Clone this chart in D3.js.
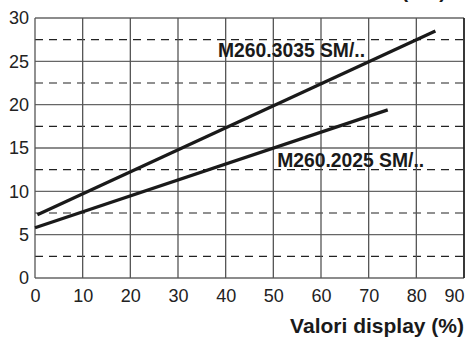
<!DOCTYPE html>
<html lang="it">
  <head>
    <meta charset="UTF-8" />
    <title>Valori display</title>
    <style>
      body { margin: 0; background: #fff; }
      svg { font-family: 'Liberation Sans', Arial, sans-serif; display: block; }
    </style>
  </head>
  <body>
    <svg width="468" height="338"></svg>
    <script src="https://d3js.org/d3.v7.min.js"></script>
    <script>
      // data
      const xTicks = [0, 10, 20, 30, 40, 50, 60, 70, 80, 90];
      const yTicks = [0, 5, 10, 15, 20, 25, 30];
      const yHalf = [2.5, 7.5, 12.5, 17.5, 22.5, 27.5];
      const upperX = [0.5, 84];
      const upperY = [7.3, 28.5];
      const lowerX = [0, 74];
      const lowerY = [5.8, 19.4];
      const seriesNames = ['M260.3035 SM/..', 'M260.2025 SM/..'];

      const svg = d3.select('svg'),
        margin = { top: 18, right: 4, bottom: 60, left: 35 },
        width = 468 - margin.left - margin.right,
        height = 338 - margin.top - margin.bottom;

      const x = d3.scaleLinear().domain([0, 90]).range([margin.left, margin.left + width]);
      const y = d3.scaleLinear().domain([0, 30]).range([margin.top + height, margin.top]);

      const g = svg.append('g');

      // dashed half lines
      g.selectAll('.half')
        .data(yHalf)
        .enter()
        .append('line')
        .attr('x1', x(0)).attr('x2', x(90))
        .attr('y1', d => y(d)).attr('y2', d => y(d))
        .attr('stroke', '#222')
        .attr('stroke-width', 1.1)
        .attr('stroke-dasharray', '8,6');

      // solid grid
      g.selectAll('.hgrid')
        .data(yTicks)
        .enter()
        .append('line')
        .attr('x1', x(0)).attr('x2', x(90))
        .attr('y1', d => y(d)).attr('y2', d => y(d))
        .attr('stroke', '#666')
        .attr('stroke-width', 1.3);

      g.selectAll('.vgrid')
        .data(xTicks)
        .enter()
        .append('line')
        .attr('x1', d => x(d)).attr('x2', d => x(d))
        .attr('y1', y(0)).attr('y2', y(30))
        .attr('stroke', d => (d === 90 ? '#222' : '#555'))
        .attr('stroke-width', d => (d === 90 ? 1.8 : 1.3));

      // axes labels
      const xAxis = svg.append('g')
        .attr('transform', `translate(0,${y(0)})`)
        .call(d3.axisBottom(x).tickValues(xTicks).tickSize(0).tickPadding(11));
      const yAxis = svg.append('g')
        .attr('transform', `translate(${x(0)},0)`)
        .call(d3.axisLeft(y).tickValues(yTicks).tickSize(0).tickPadding(6));
      [xAxis, yAxis].forEach(a => {
        a.select('.domain').remove();
        a.selectAll('text')
          .attr('font-family', "'Liberation Sans', Arial, sans-serif")
          .attr('font-size', 18)
          .attr('fill', '#222');
      });
      xAxis.selectAll('text')
        .filter(d => d === 90)
        .attr('text-anchor', 'end')
        .attr('dx', 0);

      // lines
      const line = d3.line().x(d => x(d[0])).y(d => y(d[1]));
      const series = [d3.zip(upperX, upperY), d3.zip(lowerX, lowerY)];
      g.selectAll('.series')
        .data(series)
        .enter()
        .append('path')
        .attr('d', line)
        .attr('fill', 'none')
        .attr('stroke', '#1a1a1a')
        .attr('stroke-width', 3.2);

      // series labels
      const labelPos = [[38.4, 25.5], [50.8, 12.8]];
      svg.selectAll('.lbl')
        .data(seriesNames)
        .enter()
        .append('text')
        .attr('x', (d, i) => x(labelPos[i][0]))
        .attr('y', (d, i) => y(labelPos[i][1]))
        .attr('font-size', 19.5)
        .attr('font-weight', 'bold')
        .attr('fill', '#1a1a1a')
        .attr('textLength', 147)
        .attr('lengthAdjust', 'spacingAndGlyphs')
        .text(d => d);

      // axis titles
      svg.append('text')
        .attr('x', x(90))
        .attr('y', 333)
        .attr('text-anchor', 'end')
        .attr('font-size', 21)
        .attr('font-weight', 'bold')
        .attr('fill', '#1a1a1a')
        .text('Valori display (%)');

      svg.append('text')
        .attr('x', 446)
        .attr('y', -2)
        .attr('text-anchor', 'end')
        .attr('font-size', 20)
        .attr('font-weight', 'bold')
        .attr('fill', '#1a1a1a')
        .text('(bar)');
    </script>
  </body>
</html>
